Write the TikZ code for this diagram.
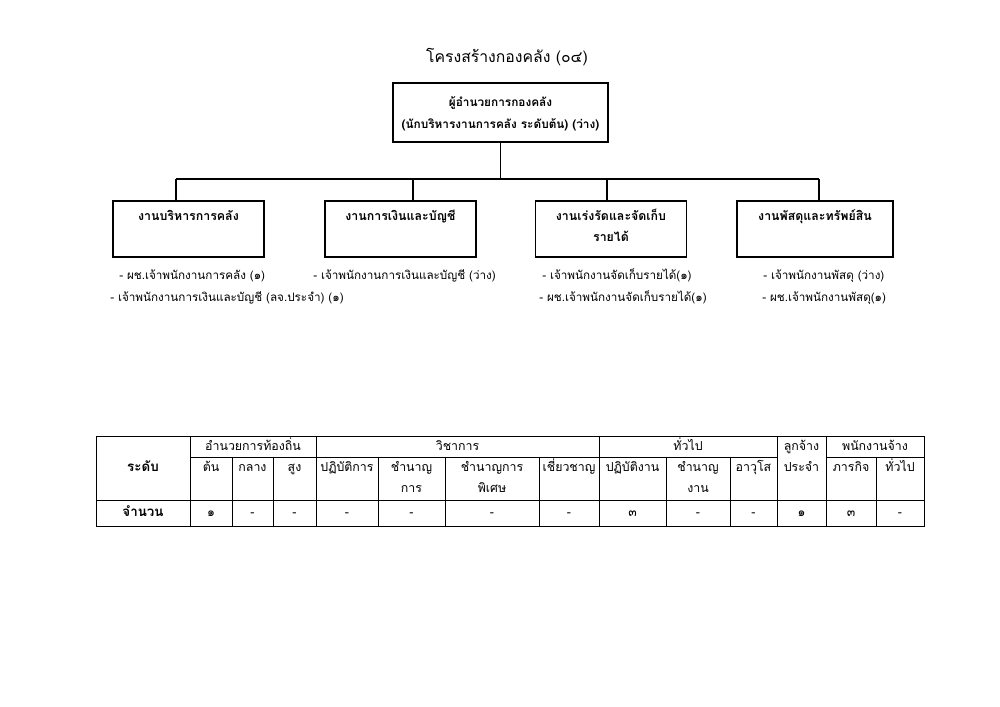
\documentclass[tikz,border=0pt]{standalone}
\usepackage{fontspec}
\setmainfont[Script=Thai]{Loma}
\usetikzlibrary{positioning}

\newcommand{\topstrut}{\rule{0pt}{0.5cm}}

\begin{document}
\begin{tikzpicture}[x=0.025cm, y=-0.025cm,
    label text/.style={inner sep=0pt, anchor=north, align=center, execute at begin node=\topstrut},
    head node/.style={draw, line width=0.8pt, minimum width=5.375cm, minimum height=1.475cm},
    unit node/.style={draw, line width=0.8pt, minimum width=3.775cm, minimum height=1.4cm},
    unit text/.style={label text, font=\bfseries\fontsize{8.8}{15}\selectfont},
    duty text/.style={label text, anchor=north west, font=\fontsize{8.3}{13.4}\selectfont},
    cell text/.style={label text, font=\fontsize{8.8}{15}\selectfont},
    table line/.style={line width=0.6pt}]

    \useasboundingbox (0,0) rectangle (1000,707);

    \node[label text, font=\fontsize{11.2}{16}\selectfont] (title) at (507,42) {โครงสร้างกองคลัง (๐๔)};

    \node[head node] (director) at (500.5,112.5) {};
    \node[unit text, font=\bfseries\fontsize{8.4}{15.6}\selectfont, below=0.1cm of director.north] (directortext) {\topstrut ผู้อำนวยการกองคลัง\\(นักบริหารงานการคลัง ระดับต้น) (ว่าง)};

    \node[unit node] (admin) at (188.5,229) {};
    \node[unit node] (finance) at (400.5,229) {};
    \node[unit node] (revenue) at (611,229) {};
    \node[unit node, minimum width=3.9cm] (supply) at (815,229) {};

    \node[unit text, below=0pt of admin.north] (admintext) {งานบริหารการคลัง};
    \node[unit text, below=0pt of finance.north] (financetext) {งานการเงินและบัญชี};
    \node[unit text, below=0pt of revenue.north] (revenuetext) {\topstrut งานเร่งรัดและจัดเก็บ\\รายได้};
    \node[unit text, below=0pt of supply.north] (supplytext) {งานพัสดุและทรัพย์สิน};

    \coordinate (adminjoin) at (176,179);
    \coordinate (financejoin) at (413,179);
    \coordinate (revenuejoin) at (607,179);
    \coordinate (supplyjoin) at (819,179);

    \draw[line width=0.8pt] (director.south) -- (director.south |- adminjoin);
    \draw[line width=0.8pt] (adminjoin) -- (supplyjoin);
    \draw[line width=0.8pt] (adminjoin) -- (adminjoin |- admin.north);
    \draw[line width=0.8pt] (financejoin) -- (financejoin |- finance.north);
    \draw[line width=0.8pt] (revenuejoin) -- (revenuejoin |- revenue.north);
    \draw[line width=0.8pt] (supplyjoin) -- (supplyjoin |- supply.north);

    % staff under each unit
    \node[duty text] (adminone) at (119,259) {- ผช.เจ้าพนักงานการคลัง (๑)};
    \node[duty text] (admintwo) at (110,281) {- เจ้าพนักงานการเงินและบัญชี (ลจ.ประจำ) (๑)};
    \node[duty text] (financeone) at (313,259) {- เจ้าพนักงานการเงินและบัญชี (ว่าง)};
    \node[duty text] (revenueone) at (542,259) {- เจ้าพนักงานจัดเก็บรายได้(๑)};
    \node[duty text] (revenuetwo) at (539,281) {- ผช.เจ้าพนักงานจัดเก็บรายได้(๑)};
    \node[duty text] (supplyone) at (763,259) {- เจ้าพนักงานพัสดุ (ว่าง)};
    \node[duty text] (supplytwo) at (762,281) {- ผช.เจ้าพนักงานพัสดุ(๑)};

    % table
    \draw[table line] (96,436) rectangle (924,526);
    \draw[table line] (96,500) -- (924,500);
    \draw[table line] (190,457) -- (777,457);
    \draw[table line] (826,457) -- (924,457);
    \draw[table line] (190,436) -- (190,526);
    \draw[table line] (316,436) -- (316,526);
    \draw[table line] (599,436) -- (599,526);
    \draw[table line] (777,436) -- (777,526);
    \draw[table line] (826,436) -- (826,526);
    \draw[table line] (232,457) -- (232,526);
    \draw[table line] (273,457) -- (273,526);
    \draw[table line] (378,457) -- (378,526);
    \draw[table line] (445,457) -- (445,526);
    \draw[table line] (539,457) -- (539,526);
    \draw[table line] (666,457) -- (666,526);
    \draw[table line] (730,457) -- (730,526);
    \draw[table line] (876,457) -- (876,526);

    \node[cell text, font=\bfseries\fontsize{9.5}{15}\selectfont] (levelhead) at (143,451) {ระดับ};
    \node[cell text, font=\bfseries\fontsize{9.5}{15}\selectfont] (counthead) at (143,496) {จำนวน};

    \node[cell text] (localadmin) at (253,430) {อำนวยการท้องถิ่น};
    \node[cell text] (academic) at (457.5,430) {วิชาการ};
    \node[cell text] (general) at (688,430) {ทั่วไป};
    \node[cell text] (permanent) at (801.5,430) {\topstrut ลูกจ้าง\\ประจำ};
    \node[cell text] (contract) at (875,430) {พนักงานจ้าง};

    \node[cell text] (basic) at (211,451) {ต้น};
    \node[cell text] (middle) at (252.5,451) {กลาง};
    \node[cell text] (high) at (294.5,451) {สูง};
    \node[cell text] (practitioner) at (347,451) {ปฏิบัติการ};
    \node[cell text] (professional) at (411.5,451) {\topstrut ชำนาญ\\การ};
    \node[cell text] (senior) at (492,451) {\topstrut ชำนาญการ\\พิเศษ};
    \node[cell text] (expert) at (569,451) {เชี่ยวชาญ};
    \node[cell text] (operational) at (632.5,451) {ปฏิบัติงาน};
    \node[cell text] (experienced) at (698,451) {\topstrut ชำนาญ\\งาน};
    \node[cell text] (senioroper) at (753.5,451) {อาวุโส};
    \node[cell text] (mission) at (851,451) {ภารกิจ};
    \node[cell text] (generalstaff) at (900,451) {ทั่วไป};

    \node[cell text] (basicnum) at (211,496) {๑};
    \node[cell text] (middlenum) at (252.5,496) {-};
    \node[cell text] (highnum) at (294.5,496) {-};
    \node[cell text] (practitionernum) at (347,496) {-};
    \node[cell text] (professionalnum) at (411.5,496) {-};
    \node[cell text] (seniornum) at (492,496) {-};
    \node[cell text] (expertnum) at (569,496) {-};
    \node[cell text] (operationalnum) at (632.5,496) {๓};
    \node[cell text] (experiencednum) at (698,496) {-};
    \node[cell text] (senioropernum) at (753.5,496) {-};
    \node[cell text] (permanentnum) at (801.5,496) {๑};
    \node[cell text] (missionnum) at (851,496) {๓};
    \node[cell text] (generalstaffnum) at (900,496) {-};
\end{tikzpicture}
\end{document}
